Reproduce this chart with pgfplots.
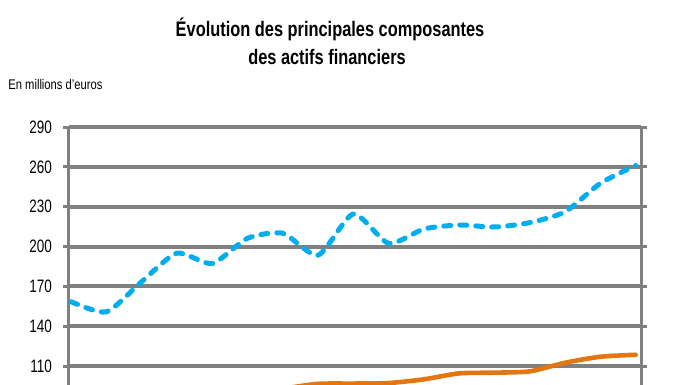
\documentclass[border=0pt]{standalone}
\usepackage{fontspec}
\setmainfont{Liberation Sans}[FakeStretch=0.8]
\newfontfamily\titlefont{Liberation Sans}[FakeStretch=0.78]
\newfontfamily\tickfont{Liberation Sans}[FakeStretch=0.75]
\usepackage{pgfplots}
\pgfplotsset{compat=1.18}
\definecolor{gridgray}{RGB}{128,128,128}
\definecolor{cblue}{RGB}{0,174,239}
\definecolor{corange}{RGB}{228,118,18}
\begin{document}
\begin{tikzpicture}
\path[use as bounding box] (0,0) rectangle (348pt,-192.5pt);
\clip (0,0) rectangle (348pt,-192.5pt);
\node[anchor=base,font=\titlefont\bfseries\fontsize{10.5}{12}\selectfont] at (165pt,-18.5pt) {Évolution des principales composantes};
\node[anchor=base,font=\titlefont\bfseries\fontsize{10.5}{12}\selectfont] at (163.5pt,-32.5pt) {des actifs financiers};
\node[anchor=base west,font=\fontsize{7}{8}\selectfont,inner sep=0pt] at (4pt,-45pt) {En millions d'euros};
\begin{axis}[
  at={(34.5pt,-63.5pt)}, anchor=north west,
  scale only axis, width=286pt, height=139.44pt,
  xmin=-0.057, xmax=16.15, ymin=80, ymax=290,
  ytick={110,140,170,200,230,260,290},
  xtick=\empty,
  ymajorgrids, grid style={gridgray, line width=2pt},
  axis line style={gridgray, line width=1.5pt},
  y tick style={gridgray, line width=1.5pt},
  tick align=outside, major tick length=3pt,
  /pgf/number format/assume math mode=true,
  yticklabel style={font=\tickfont\fontsize{9}{10}\selectfont, xshift=-2pt},
  clip=true,
]
\addplot[corange, line width=2.3pt, smooth, tension=0.4, line cap=round] coordinates {
(0,82) (1,83) (2,85) (3,86) (4,88) (5,90) (6,93) (7,96.6) (8,96.8) (9,97.2)
(10,100) (11,104.5) (12,105) (13,106) (14,112.5) (15,117) (16,118.5)};
\addplot[cblue, line width=2.5pt, smooth, tension=0.4, line cap=round, line join=round,
  dash pattern=on 3.5pt off 4.5pt] coordinates {
(0,158.5) (1,150.8) (2,173.5) (3,195) (4,187.2) (5,206.2) (6,210) (7,193.5)
(8,224.5) (9,202.4) (10,213.2) (11,216.2) (12,214.7) (13,218) (14,226.2) (15,247.6) (16,261)};
\end{axis}
\end{tikzpicture}
\end{document}
